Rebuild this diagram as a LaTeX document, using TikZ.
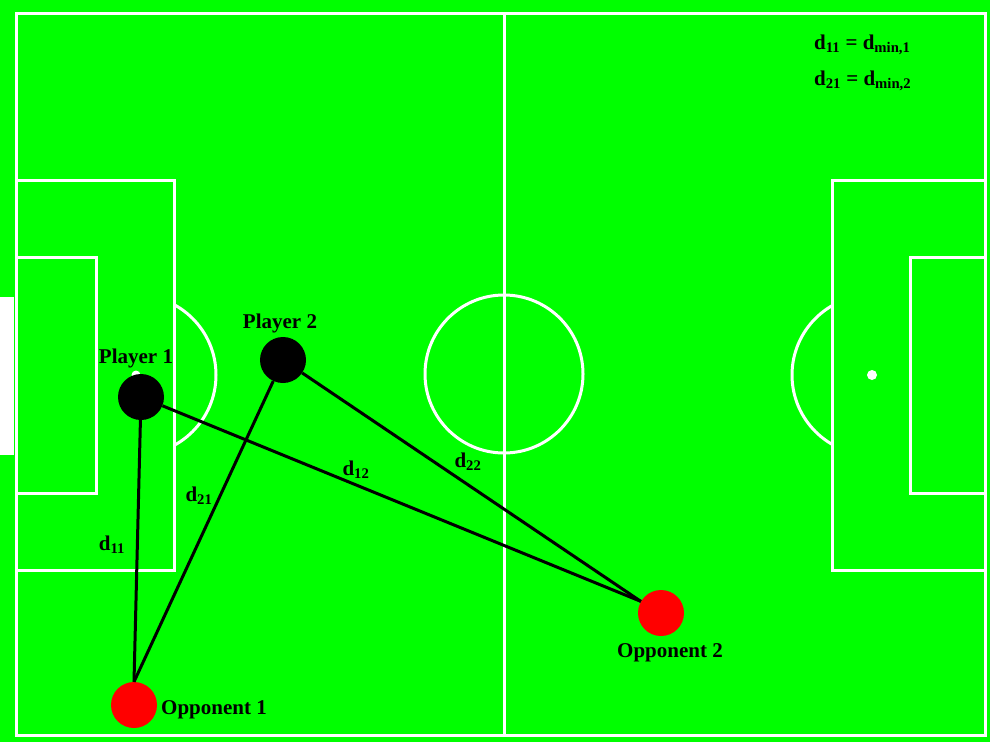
\documentclass[tikz,border=0pt]{standalone}
\usepackage{fontspec}
\setmainfont{Liberation Serif}
\usetikzlibrary{positioning}
\definecolor{pitch}{HTML}{00FF00}
\definecolor{oppred}{HTML}{FF0000}

\begin{document}
\begin{tikzpicture}[x=1pt,y=-1pt,
    chalk/.style={white,line width=3pt},
    player/.style={circle,fill=black,minimum size=46pt,inner sep=0pt},
    opponent/.style={circle,fill=oppred,minimum size=46pt,inner sep=0pt},
    link/.style={black,line width=3pt},
    lbl/.style={font=\fontsize{21}{25}\selectfont\bfseries,inner sep=0pt}]
  \useasboundingbox (0,0) rectangle (990,742);
  \fill[pitch] (0,0) rectangle (990,742);
  \fill[white] (0,297) rectangle (14,455);
  % pitch markings
  \draw[chalk] (16,13) rectangle (985,735);
  \draw[chalk] (504,13) -- (504,735);
  \draw[chalk] (504,374) circle[radius=79];
  \draw[chalk] (16,180) rectangle (174,570);
  \draw[chalk] (16,257) rectangle (96,493);
  \draw[chalk] (985,180) -- (832,180) -- (832,570) -- (985,570);
  \draw[chalk] (985,257) -- (910,257) -- (910,493) -- (985,493);
  \begin{scope}
    \clip (174,0) rectangle (300,742);
    \draw[chalk] (136,375) circle[radius=80];
  \end{scope}
  \begin{scope}
    \clip (700,0) rectangle (832,742);
    \draw[chalk] (872,375) circle[radius=80];
  \end{scope}
  \fill[white] (136,375) circle[radius=4.5];
  \fill[white] (872,375) circle[radius=5];
  % players and opponents
  \node[player] (p1) at (141,397) {};
  \node[player] (p2) at (283,360) {};
  \node[opponent] (o1) at (134,705) {};
  \node[opponent] (o2) at (661,613) {};
  \draw[link] (p1) -- (o1.north);
  \draw[link] (p1) -- (o2.150);
  \draw[link] (p2) -- (o1.north);
  \draw[link] (p2) -- (o2.150);
  % labels
  \node[lbl] (p1lbl) at (136,358) {Player 1};
  \node[lbl] (p2lbl) at (280,323) {Player 2};
  \node[lbl,anchor=west] (o1lbl) at (161,710) {Opponent 1};
  \node[lbl] (o2lbl) at (670,653) {Opponent 2};
  \node[lbl] (d11) at (112,545) {d\textsubscript{11}};
  \node[lbl] (d21) at (199,496) {d\textsubscript{21}};
  \node[lbl] (d12) at (356,470) {d\textsubscript{12}};
  \node[lbl] (d22) at (468,462) {d\textsubscript{22}};
  \node[lbl,anchor=west] (eq1) at (814,45) {d\textsubscript{11} = d\textsubscript{min,1}};
  \node[lbl,anchor=west] (eq2) at (814,81) {d\textsubscript{21} = d\textsubscript{min,2}};
\end{tikzpicture}
\end{document}
